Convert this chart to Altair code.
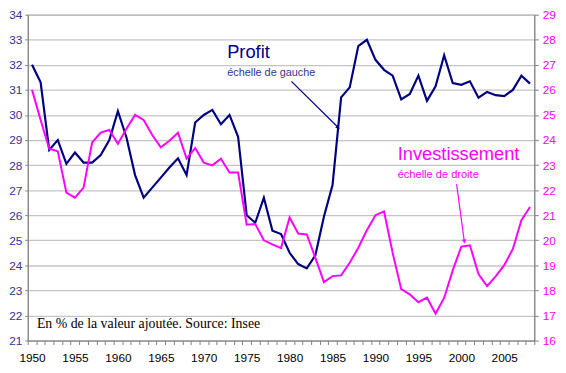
import altair as alt
import pandas as pd

# ---------------- data ----------------
years = list(range(1950, 2009))

profit = [32.0, 31.3, 28.6, 29.0, 28.05, 28.5, 28.1, 28.1, 28.4, 29.0,
          30.15, 29.1, 27.6, 26.7, 27.1, 27.5, 27.9, 28.27, 27.6, 29.7,
          30.0, 30.2, 29.63, 30.0, 29.13, 26.0, 25.7, 26.7, 25.38, 25.25,
          24.5, 24.05, 23.88, 24.4, 25.95, 27.2, 30.7, 31.1, 32.75, 33.0,
          32.2, 31.8, 31.57, 30.62, 30.84, 31.57, 30.56, 31.14, 32.38, 31.27,
          31.2, 31.34, 30.69, 30.92, 30.79, 30.75, 31.0, 31.57, 31.25]

invest = [26.0, 24.8, 23.65, 23.55, 21.9, 21.7, 22.1, 23.9, 24.3, 24.4,
          23.85, 24.45, 25.0, 24.8, 24.2, 23.71, 23.97, 24.29, 23.26, 23.68,
          23.1, 22.99, 23.25, 22.7, 22.7, 20.62, 20.65, 20.0, 19.84, 19.69,
          20.91, 20.27, 20.23, 19.3, 18.33, 18.57, 18.6, 19.1, 19.7, 20.4,
          21.0, 21.15, 19.5, 18.05, 17.84, 17.53, 17.71, 17.07, 17.7, 18.8,
          19.75, 19.8, 18.65, 18.17, 18.56, 19.01, 19.65, 20.8, 21.33]

left_ticks = list(range(21, 35))
right_ticks = list(range(16, 30))
x_ticks = [y - 0.5 for y in range(1950, 2010)]

# annotation texts (positions in year / left-scale units)
ann_text = ["Profit", "échelle de gauche", "Investissement", "échelle de droite",
            "En % de la valeur ajoutée. Source: Insee"]
ann_x = [1972.73, 1972.73, 1992.59, 1992.59, 1950.57]
ann_y = [32.26, 31.57, 28.19, 27.49, 21.49]

# arrows (start, end) in year / left-scale units
arrow_profit_x = [1980.21, 1985.66]
arrow_profit_y = [31.34, 29.5]
arrow_inv_x = [1999.45, 2000.35]
arrow_inv_y = [27.24, 24.95]

NAVY = "#000080"
NAVY_LBL = "#333399"
MAG = "#FF00FF"
SANS = "Liberation Sans"
SERIF = "Liberation Serif"

df = pd.DataFrame({"year": years, "profit": profit, "invest": invest})

xs = alt.Scale(domain=[1949.5, 2008.5], nice=False, zero=False)
ys_left = alt.Scale(domain=[21, 34], nice=False, zero=False)
ys_right = alt.Scale(domain=[16, 29], nice=False, zero=False)

x_axis = alt.Axis(
    values=x_ticks,
    labelExpr="(datum.value + 0.5) % 5 == 0 ? toString(datum.value + 0.5) : ''",
    labelOffset=4.35, tickSize=4, labelPadding=8, labelFontSize=12,
    labelColor="#000000", labelFont=SANS, domainColor="#808080",
    tickColor="#808080", grid=False, title=None, labelOverlap=False,
    labelFlush=False, labelBound=False,
)
left_axis = alt.Axis(
    values=left_ticks, orient="left", grid=True, gridColor="#c4c4c4",
    gridWidth=1.3, labelColor=NAVY_LBL, labelFontSize=12, labelFont=SANS,
    tickSize=3, labelPadding=3, domainColor="#808080", tickColor="#808080",
    title=None,
)
right_axis = alt.Axis(
    values=right_ticks, orient="right", grid=False, labelColor=MAG,
    labelFontSize=12, labelFont=SANS, tickSize=4, labelPadding=4,
    domainColor="#808080", tickColor="#808080", title=None,
)

profit_line = alt.Chart(df).mark_line(color=NAVY, strokeWidth=2.2).encode(
    x=alt.X("year:Q", scale=xs, axis=x_axis),
    y=alt.Y("profit:Q", scale=ys_left, axis=left_axis),
)

layers_left = [profit_line]

styles = [
    dict(fontSize=18.5, color=NAVY, font=SANS),
    dict(fontSize=11, color=NAVY_LBL, font=SANS),
    dict(fontSize=18.5, color=MAG, font=SANS),
    dict(fontSize=11.2, color=MAG, font=SANS),
    dict(fontSize=14, color="#000000", font=SERIF),
]
for t, xv, yv, st in zip(ann_text, ann_x, ann_y, styles):
    d = pd.DataFrame({"x": [xv], "y": [yv], "t": [t]})
    layers_left.append(
        alt.Chart(d).mark_text(align="left", baseline="alphabetic", **st).encode(
            x=alt.X("x:Q", scale=xs, axis=x_axis),
            y=alt.Y("y:Q", scale=ys_left, axis=left_axis),
            text="t:N",
        )
    )

for ax, ay, col, ang in [(arrow_profit_x, arrow_profit_y, NAVY, 44.6),
                         (arrow_inv_x, arrow_inv_y, MAG, 82.4)]:
    d = pd.DataFrame({"x": ax, "y": ay})
    layers_left.append(
        alt.Chart(d).mark_line(color=col, strokeWidth=1.2).encode(
            x=alt.X("x:Q", scale=xs, axis=x_axis),
            y=alt.Y("y:Q", scale=ys_left, axis=left_axis),
        )
    )
    dh = pd.DataFrame({"x": [ax[1]], "y": [ay[1]]})
    layers_left.append(
        alt.Chart(dh).mark_point(shape="triangle-right", filled=True, size=22,
                                 color=col, opacity=1, angle=ang).encode(
            x=alt.X("x:Q", scale=xs, axis=x_axis),
            y=alt.Y("y:Q", scale=ys_left, axis=left_axis),
        )
    )

left = alt.layer(*layers_left)

inv_line = alt.Chart(df).mark_line(color=MAG, strokeWidth=2).encode(
    x=alt.X("year:Q", scale=xs, axis=x_axis),
    y=alt.Y("invest:Q", scale=ys_right, axis=right_axis),
)

chart = (
    alt.layer(left, inv_line)
    .resolve_scale(y="independent")
    .properties(
        width=513, height=330,
        padding={"left": 20, "top": 4.5, "right": 24, "bottom": 22.5},
        autosize=alt.AutoSizeParams(type="none"),
        background="#ffffff",
    )
    .configure_view(stroke="#909090", strokeWidth=1)
)

chart.save("out.html", embed_options={"renderer": "svg", "actions": False})
